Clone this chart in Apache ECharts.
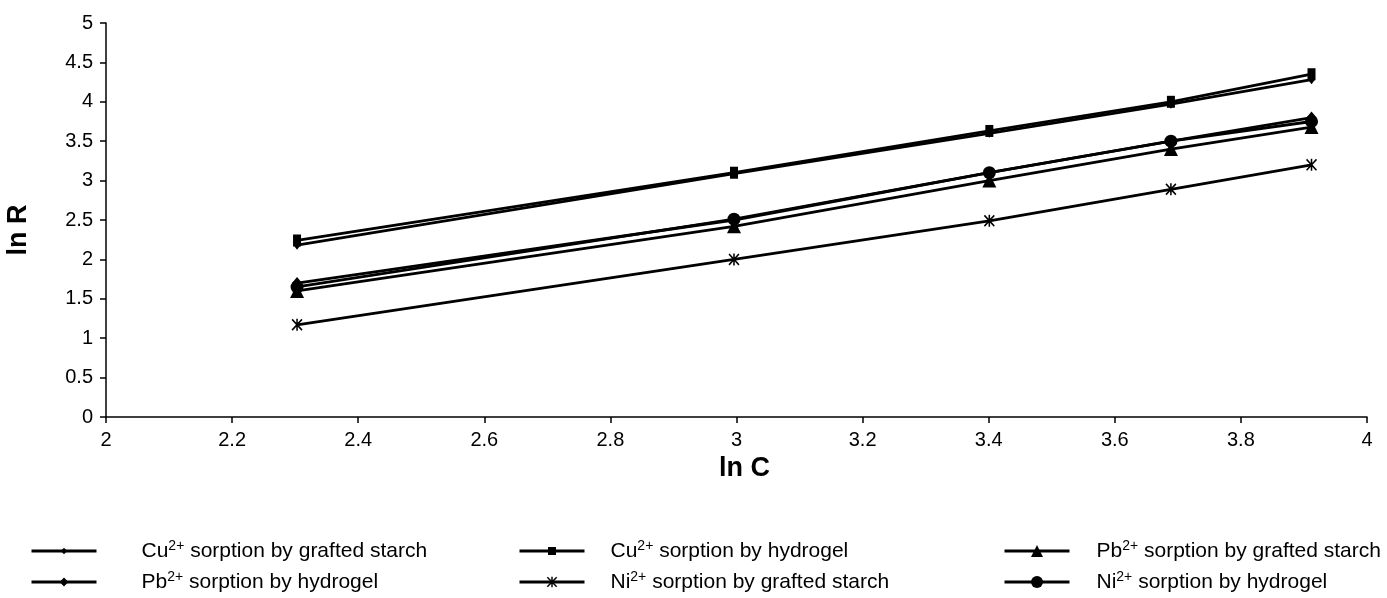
<!DOCTYPE html>
<html>
<head>
<meta charset="utf-8">
<script src="https://cdn.jsdelivr.net/npm/echarts@6/dist/echarts.min.js"></script>
<style>
html,body{margin:0;padding:0;background:#fff;}
#chart{width:1387px;height:598px;}
</style>
</head>
<body>
<div id="chart"></div>
<script>
// ln C values (x)
const lnC = [2.303, 2.996, 3.401, 3.689, 3.912];
// ln R values (y) per series
const cuGrafted  = [2.18, 3.09, 3.60, 3.97, 4.28];
const cuHydrogel = [2.24, 3.10, 3.63, 4.00, 4.35];
const pbGrafted  = [1.60, 2.42, 3.00, 3.40, 3.68];
const pbHydrogel = [1.70, 2.50, 3.10, 3.50, 3.80];
const niGrafted  = [1.17, 2.00, 2.49, 2.89, 3.20];
const niHydrogel = [1.65, 2.51, 3.10, 3.50, 3.75];
const seriesNames = [
  'Cu2+ sorption by grafted starch',
  'Cu2+ sorption by hydrogel',
  'Pb2+ sorption by grafted starch',
  'Pb2+ sorption by hydrogel',
  'Ni2+ sorption by grafted starch',
  'Ni2+ sorption by hydrogel'
];

const FONT = 'Liberation Sans, Arial, sans-serif';
const starPath = 'path://M0,1 L1,0 L5,4 L9,0 L10,1 L6,5 L10,9 L9,10 L5,6 L1,10 L0,9 L4,5 Z M4.3,0 L5.7,0 L5.7,10 L4.3,10 Z';

const seriesDefs = [
  {data: cuGrafted,  symbol: 'diamond',  symbolSize: [7, 9],   legendH: 8},
  {data: cuHydrogel, symbol: 'rect',     symbolSize: [8, 12],  legendH: 10},
  {data: pbGrafted,  symbol: 'triangle', symbolSize: [14, 14], legendH: 15},
  {data: pbHydrogel, symbol: 'diamond',  symbolSize: [10, 12], legendH: 11},
  {data: niGrafted,  symbol: starPath,   symbolSize: [11, 12], legendH: 13},
  {data: niHydrogel, symbol: 'circle',   symbolSize: 13,       legendH: 15}
];

function pairs(ys){ return lnC.map((x,i)=>[x, ys[i]]); }

const series = seriesDefs.map((d, i) => ({
  name: seriesNames[i],
  type: 'line',
  data: pairs(d.data),
  symbol: d.symbol,
  symbolSize: d.symbolSize,
  showAllSymbol: true,
  lineStyle: {color: '#000', width: 2.8},
  itemStyle: {color: '#000', borderColor: '#000', borderWidth: 0},
  animation: false,
  z: 2
}));

// legend layout: [left, top, gap]
const legendPos = [
  [30, 539, 40], [518, 539, 21], [1003, 539, 22],
  [30, 570, 40], [518, 570, 21], [1003, 570, 22]
];

function legendFormatter(name){
  const m = name.match(/^(\w+)2\+ (.*)$/);
  return '{gap|}{t|' + m[1] + '}{sup|2+}{t| ' + m[2] + '}';
}

const legends = seriesNames.map((nm, k) => ({
  data: [nm],
  left: legendPos[k][0],
  top: legendPos[k][1],
  padding: 0,
  itemWidth: 65,
  itemHeight: seriesDefs[k].legendH,
  selectedMode: false,
  lineStyle: {color: '#000', width: 3},
  formatter: legendFormatter,
  textStyle: {
    rich: {
      gap: {width: legendPos[k][2], lineHeight: 24},
      t: {fontFamily: FONT, fontSize: 21, color: '#000', lineHeight: 24},
      sup: {fontFamily: FONT, fontSize: 14, color: '#000', lineHeight: 13, verticalAlign: 'top'}
    }
  }
}));

const option = {
  backgroundColor: '#fff',
  animation: false,
  grid: {left: 106, right: 20, top: 23, bottom: 181, containLabel: false, outerBoundsMode: 'none'},
  legend: legends,
  xAxis: {
    type: 'value', min: 2, max: 4, interval: 0.2,
    name: 'ln C', nameLocation: 'middle', nameGap: 33,
    nameTextStyle: {fontFamily: FONT, fontSize: 27, fontWeight: 'bold', color: '#000', padding: [0, 0, 0, 16]},
    axisLine: {show: true, onZero: false, lineStyle: {color: '#000', width: 1.5}},
    axisTick: {show: true, length: 6, inside: false, lineStyle: {color: '#000', width: 1.5}},
    axisLabel: {fontFamily: FONT, fontSize: 20, color: '#000', margin: 13},
    splitLine: {show: false}
  },
  yAxis: {
    type: 'value', min: 0, max: 5, interval: 0.5,
    name: 'ln R', nameLocation: 'middle', nameGap: 74, nameRotate: 90,
    nameTextStyle: {fontFamily: FONT, fontSize: 27, fontWeight: 'bold', color: '#000', padding: [0, 20, 0, 0]},
    axisLine: {show: true, onZero: false, lineStyle: {color: '#000', width: 1.5}},
    axisTick: {show: true, length: 6, inside: false, lineStyle: {color: '#000', width: 1.5}},
    axisLabel: {fontFamily: FONT, fontSize: 20, color: '#000', margin: 13},
    splitLine: {show: false}
  },
  series: series
};

const chart = echarts.init(document.getElementById('chart'), null, {renderer: 'canvas'});
chart.setOption(option);
</script>
</body>
</html>
